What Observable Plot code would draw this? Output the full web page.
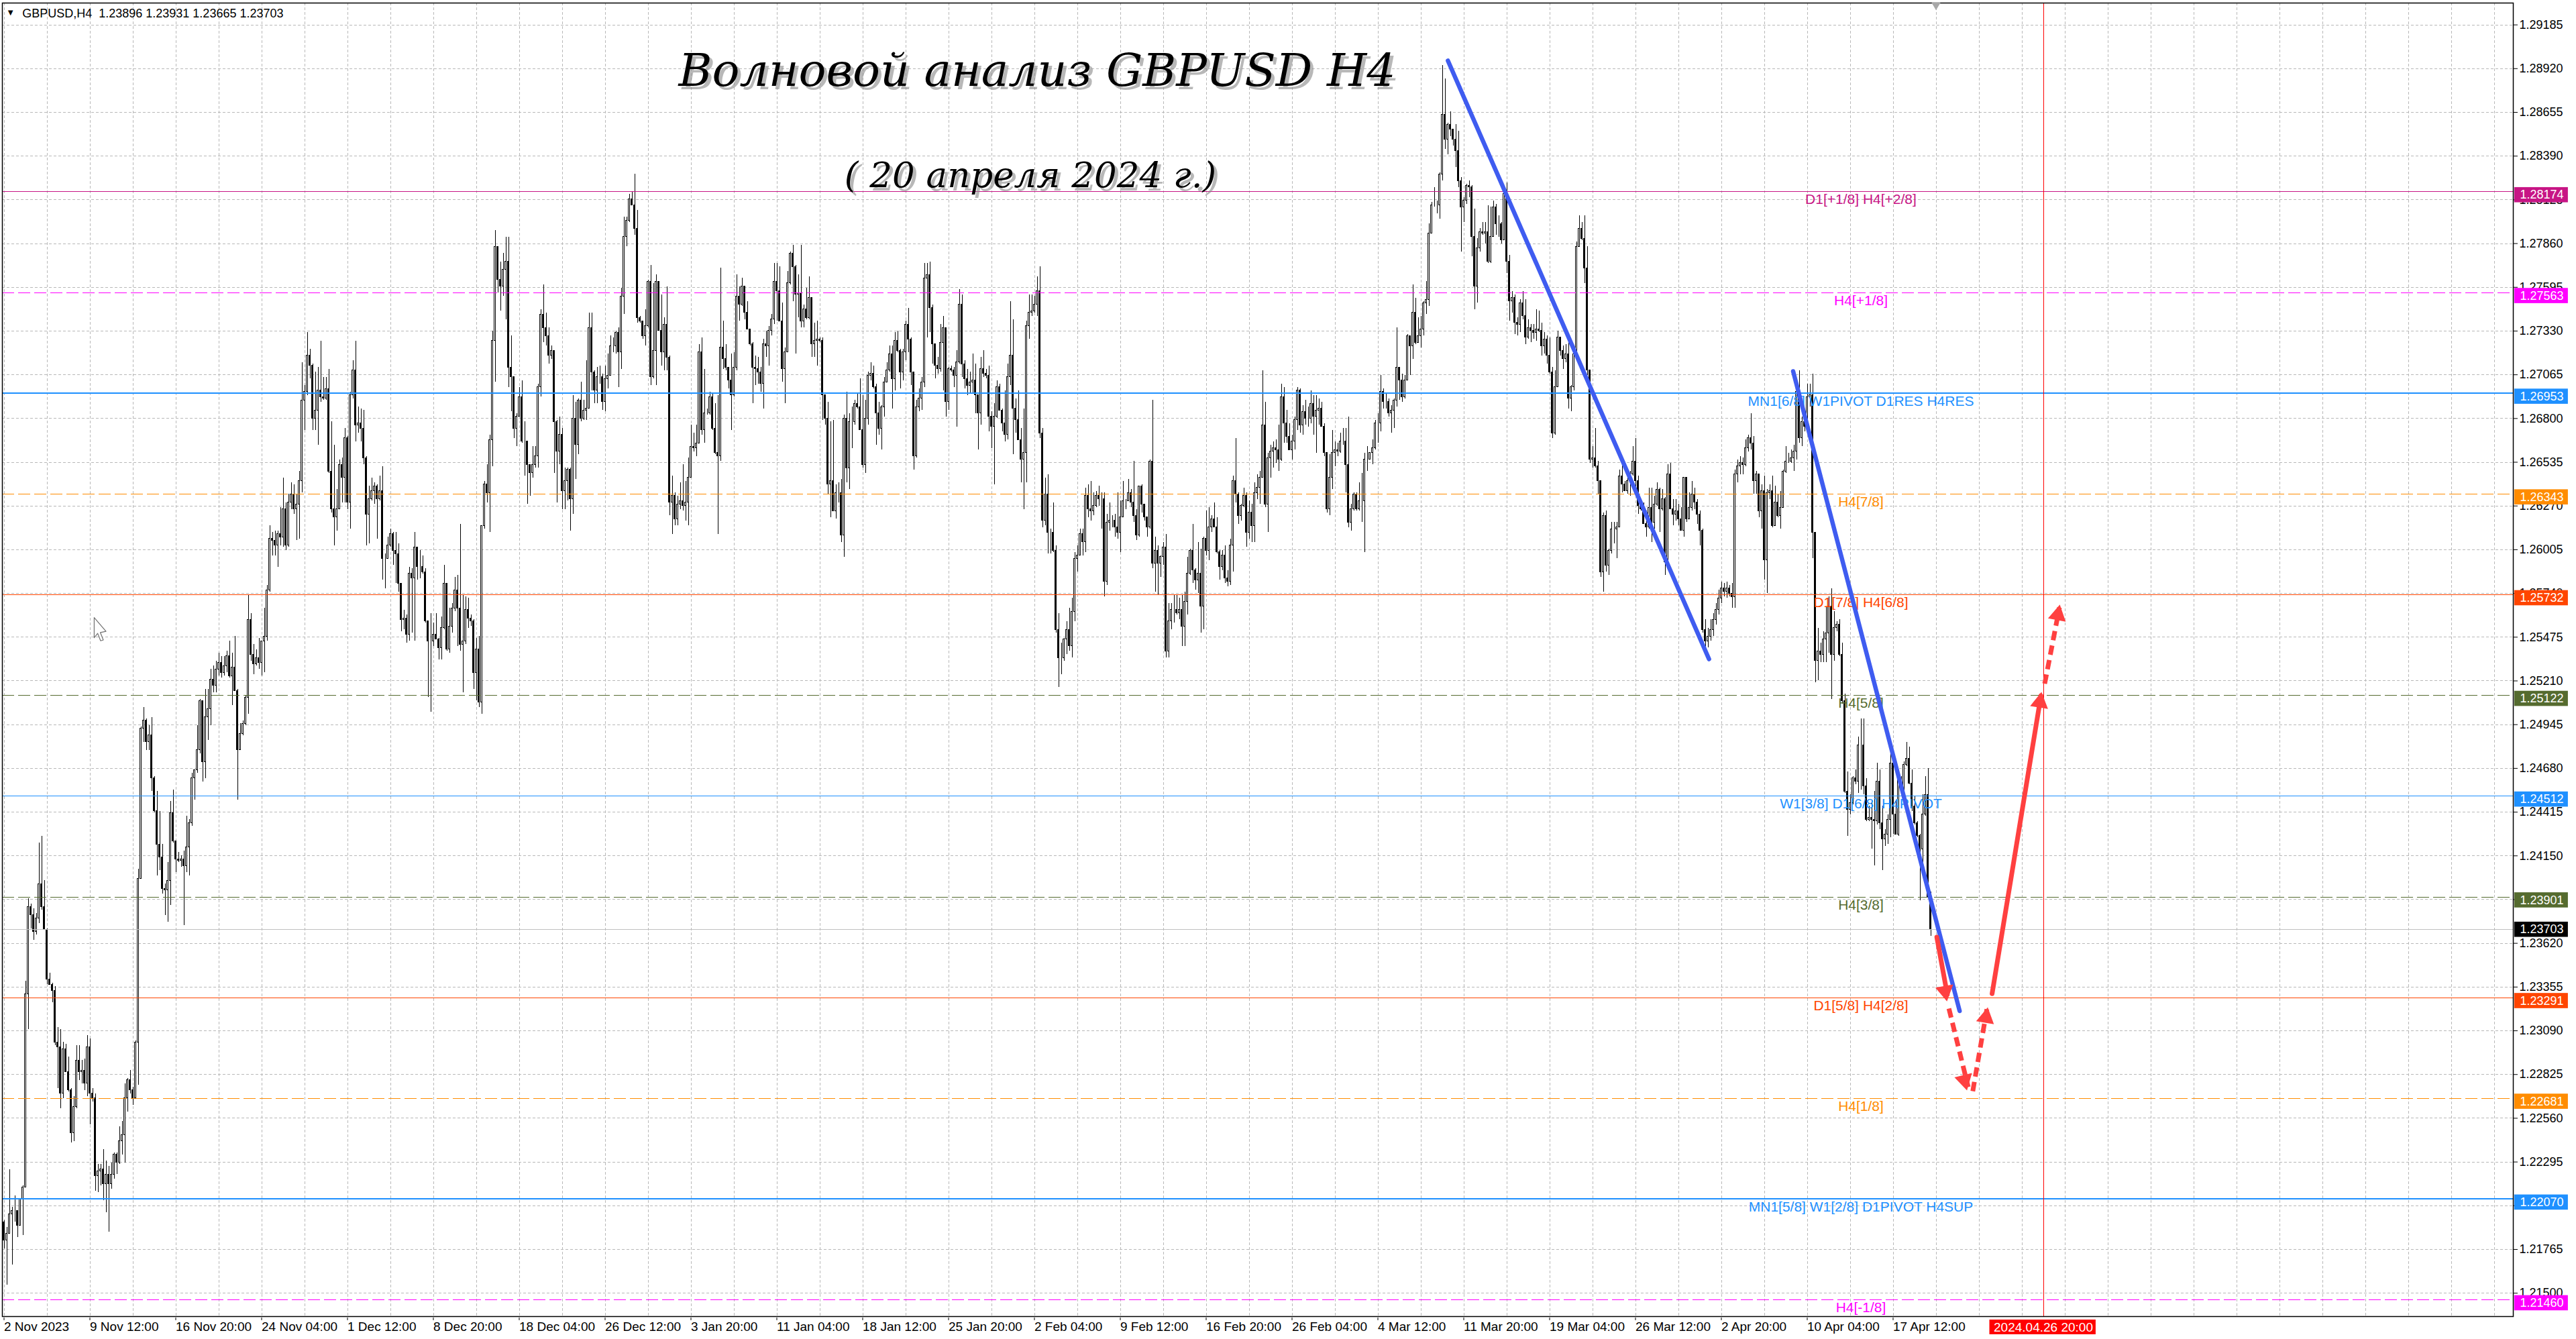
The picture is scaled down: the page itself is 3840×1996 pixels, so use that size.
<!DOCTYPE html>
<html><head><meta charset="utf-8">
<style>html,body{margin:0;padding:0;background:#fff}svg{display:block}</style>
<script src="https://cdn.jsdelivr.net/npm/d3@7"></script>
<script src="https://cdn.jsdelivr.net/npm/@observablehq/plot@0.6"></script>
</head><body>
<script>
// Prices are read as pips above 1.20000; the first open is 193.
const firstOpen = 193;
const closes = [
182,186,198,200,200,191,207,214,331,384,379,369,377,398,384,370,340,337,333,302,
299,271,298,284,273,247,263,291,284,285,277,299,271,268,221,224,225,216,222,216,
222,234,229,242,246,268,279,273,268,302,401,492,497,484,488,462,442,422,414,395,
394,400,441,424,413,412,413,409,420,435,462,467,479,509,472,499,504,522,518,528,
532,526,530,536,524,529,515,479,489,495,511,558,537,531,535,532,545,548,576,607,
606,603,610,608,625,603,629,634,625,628,642,691,696,718,712,680,685,697,693,692,
698,648,625,620,625,652,644,668,629,694,709,676,677,674,656,622,631,636,639,631,
636,595,595,603,610,600,598,580,558,559,549,586,583,602,590,590,587,557,545,545,
549,546,541,553,580,540,554,565,576,565,543,545,564,559,557,526,540,508,615,640,
635,667,727,784,764,760,770,775,711,705,674,681,693,666,666,652,647,652,657,699,
743,735,730,718,721,678,660,670,636,642,649,631,680,664,691,680,685,686,735,708,
697,705,705,690,704,706,724,724,732,720,754,790,800,813,809,795,741,739,730,736,
763,705,721,763,733,720,737,717,629,633,619,628,630,627,629,644,663,662,665,720,
673,683,683,693,674,659,657,723,716,711,703,694,711,754,749,760,744,734,725,711,
710,708,701,725,724,733,740,763,757,739,710,720,762,780,772,755,756,739,746,741,
753,725,727,728,727,694,680,640,642,624,635,635,609,680,650,678,678,689,687,673,
652,680,706,707,699,683,674,687,702,709,719,704,727,721,708,720,737,728,708,657,
687,692,702,765,767,747,725,712,710,726,735,690,710,709,706,714,749,713,704,700,
702,703,694,683,710,707,706,681,675,681,699,685,677,670,705,718,686,679,667,655,
659,736,744,745,749,757,671,618,634,611,611,600,552,535,535,546,552,542,563,595,
597,610,605,633,625,624,627,633,631,631,581,617,618,618,614,611,620,630,630,635,
629,621,609,639,628,620,614,654,592,600,592,596,602,539,557,564,564,562,564,554,
569,586,600,588,582,586,566,607,600,614,619,614,599,590,597,583,581,603,642,634,
621,627,633,611,623,615,635,638,644,676,628,656,660,662,661,655,693,677,669,661,
666,679,697,676,684,680,680,689,681,685,686,675,659,625,644,659,661,660,666,666,
652,617,625,634,625,630,630,655,655,659,662,677,677,696,690,690,683,685,691,711,
703,693,703,730,724,744,726,730,734,750,752,792,809,809,809,828,864,849,858,855,
849,842,824,808,812,821,820,790,760,783,793,792,793,775,790,808,798,798,788,816,
775,751,753,738,737,750,742,729,735,733,732,734,733,724,728,718,708,671,699,729,
721,716,719,692,699,719,784,795,789,771,709,655,656,651,642,587,621,591,600,613,
613,614,645,640,636,642,646,654,642,627,625,616,614,626,617,628,637,625,631,593,
646,625,622,624,619,612,644,619,626,634,629,622,612,552,545,548,552,558,564,571,
577,575,577,574,572,646,651,653,652,662,668,665,642,646,624,636,594,635,636,615,
629,621,626,648,654,654,656,660,696,668,678,675,693,694,611,533,539,537,546,550,
566,537,553,555,537,509,454,443,447,462,460,482,482,457,437,438,437,436,460,435,
425,428,437,471,440,428,461,455,470,474,459,445,435,427,419,440,452,390,370.3];
const upperWicks = [
1,4,27,2,9,0,0,1,8,5,2,4,3,25,29,16,1,4,1,3,
9,11,4,3,9,1,6,9,9,6,7,7,5,3,3,4,3,12,8,5,
7,1,1,9,8,9,1,6,2,1,6,1,8,1,6,11,1,12,20,8,
3,11,7,14,0,4,2,5,19,2,3,0,15,1,0,17,12,6,8,5,
6,4,6,3,9,9,19,1,6,2,1,15,4,6,5,12,0,17,3,8,
4,6,2,16,19,4,5,7,6,6,6,23,4,14,4,1,23,14,30,12,
7,12,30,39,12,3,4,6,1,2,6,18,10,9,11,1,8,8,2,1,
9,15,3,5,3,1,11,6,0,5,2,4,3,9,0,10,7,2,0,17,
7,13,1,7,11,0,11,3,8,9,51,28,8,7,2,1,7,8,0,2,
12,3,6,10,0,11,10,15,15,19,0,2,6,10,12,0,0,11,6,2,
3,18,9,5,3,0,1,11,4,8,1,1,14,10,1,11,6,29,9,9,
1,6,7,2,8,13,6,5,1,3,5,12,2,3,4,19,11,1,0,10,
1,10,41,4,0,22,4,23,1,12,2,5,11,22,13,12,13,8,11,5,
9,27,3,3,2,15,35,48,16,9,0,16,9,13,6,5,0,7,0,1,
7,7,3,3,8,3,3,11,11,15,11,3,7,1,5,1,11,29,3,13,
13,0,11,11,1,2,0,10,36,37,5,6,8,2,16,5,9,2,6,17,
21,11,2,7,5,2,7,1,3,5,5,5,5,6,1,2,2,10,1,0,
4,6,3,9,7,8,2,0,5,11,7,0,1,2,2,7,9,6,2,6,
6,16,10,0,7,11,3,6,3,8,4,2,1,20,8,33,22,6,18,7,
27,3,11,10,5,9,15,3,10,12,2,18,3,10,9,1,5,13,8,4,
6,3,3,5,7,17,8,3,6,4,4,5,11,3,4,21,10,12,1,8,
2,25,4,0,1,0,0,1,37,8,3,1,3,8,11,4,9,9,7,9,
6,10,1,16,1,19,15,1,17,12,2,10,6,1,3,6,5,4,3,26,
1,1,5,2,7,5,6,8,4,33,14,3,4,4,5,15,8,6,8,8,
4,2,2,1,4,7,7,8,5,9,6,4,2,0,14,14,5,4,5,8,
8,29,3,1,1,11,17,4,8,0,5,2,6,10,2,5,2,3,1,24,
0,4,3,1,0,17,9,11,8,1,11,6,2,11,3,1,30,22,1,8,
0,9,12,2,2,1,3,1,17,6,2,6,6,16,18,4,2,5,1,2,
7,4,4,2,3,2,7,10,5,2,4,12,11,5,4,2,11,3,10,4,
0,3,6,8,1,3,3,8,4,14,13,0,7,18,3,0,2,3,1,4,
4,3,4,7,2,2,2,9,14,3,1,4,8,12,12,5,4,1,6,1,
6,7,6,7,4,7,0,0,9,8,4,2,2,1,6,5,6,4,4,5,
4,3,4,2,6,3,4,4,3,5,2,15,4,2,0,4,9,2,4,9,
10,5,10,1,9,5,5,4,1,13,3,5,8,7,13,0,14,5,5,16,
6,11,10,2,3,7,4,12,5,1,5,5,16,16,5,7,10,17,11,7,
10,3,3,7,0,9,6,2,2,10,7,8,6,1,1,12,11,16,3];
const lowerWicks = [
5,27,0,31,7,7,0,22,0,21,8,5,2,3,2,0,3,0,7,2,
25,9,3,0,1,6,5,1,5,7,4,8,19,2,9,10,9,10,17,29,
3,3,7,1,8,17,8,2,4,0,26,0,8,5,5,8,1,19,8,3,
15,19,15,1,8,1,4,36,4,17,2,13,2,2,12,10,14,10,4,4,
4,3,2,4,1,18,0,30,0,1,1,10,4,6,1,4,8,19,3,1,
9,6,13,5,6,3,1,4,3,19,21,7,18,2,8,7,7,21,3,1,
1,1,2,17,8,0,15,15,4,16,2,10,5,8,4,19,18,1,8,24,
1,13,18,0,1,9,18,5,7,6,5,4,33,38,8,7,1,1,34,43,
3,0,7,7,1,1,2,4,2,23,4,29,2,6,3,10,17,3,7,2,
6,24,16,25,8,15,6,30,12,21,6,11,0,1,21,24,14,3,2,7,
6,9,6,5,2,31,31,8,11,11,12,19,9,21,6,2,1,6,0,11,
8,8,4,5,6,6,0,4,5,21,10,11,6,1,0,4,3,1,2,6,
1,5,1,21,0,8,11,8,8,19,4,4,3,3,9,14,0,2,5,0,
3,8,1,1,1,1,47,3,6,2,5,21,1,2,10,1,4,0,1,22,
10,7,5,15,7,12,3,3,18,0,8,21,0,1,21,36,14,4,4,1,
1,8,8,15,1,15,4,6,20,0,5,6,4,13,9,13,16,2,1,0,
2,5,4,3,1,19,4,13,6,0,1,18,7,1,10,5,5,8,8,8,
1,3,7,3,36,15,12,8,3,2,29,9,5,1,7,31,1,8,6,6,
5,7,11,22,7,2,2,9,13,35,1,0,5,4,3,5,28,8,0,14,
30,18,8,2,1,7,3,4,3,13,13,1,2,18,10,2,9,3,7,6,
8,0,8,6,5,6,3,1,4,18,9,2,5,4,6,4,12,0,5,0,
3,4,3,1,5,2,6,1,3,17,19,8,5,4,4,5,8,1,4,12,
12,8,1,8,6,8,16,14,3,6,3,0,1,8,2,3,3,2,16,5,
5,3,1,9,4,10,10,4,10,0,2,17,12,10,8,7,1,12,4,0,
6,5,6,5,6,4,5,3,11,22,9,0,2,2,4,7,8,3,1,2,
17,3,5,1,1,1,13,31,7,0,7,1,12,5,4,4,2,12,11,4,
12,3,1,0,18,8,1,0,7,4,7,4,0,1,5,8,4,6,9,4,
4,10,4,27,9,2,6,12,14,10,2,1,6,1,1,0,7,8,2,0,
7,12,7,7,7,5,2,4,1,7,4,5,1,6,5,5,1,3,1,0,
3,6,2,6,8,2,1,0,1,9,3,2,5,1,8,3,12,4,6,2,
9,18,0,5,0,2,9,1,8,5,1,0,6,1,12,4,1,14,1,8,
1,0,7,4,4,0,4,2,0,2,4,6,9,2,4,4,3,4,3,3,
3,3,4,2,7,7,5,5,6,1,2,4,8,8,4,11,12,20,4,1,
0,1,8,0,1,1,1,8,5,3,5,3,1,6,16,13,12,5,5,14,
12,27,4,2,1,2,1,16,3,1,2,7,27,5,1,1,18,27,2,4,
19,4,6,11,12,0,1,2,9,1,1,3,1,1,31,10,1,1,4];

const priceTicks = [1.29185,1.2892,1.28655,1.2839,1.28125,1.2786,1.27595,1.2733,1.27065,1.268,1.26535,1.2627,1.26005,1.2574,1.25475,1.2521,1.24945,1.2468,1.24415,1.2415,1.23885,1.2362,1.23355,1.2309,1.22825,1.2256,1.22295,1.2203,1.21765,1.215];
const dateLabels = ["2 Nov 2023","9 Nov 12:00","16 Nov 20:00","24 Nov 04:00","1 Dec 12:00","8 Dec 20:00","18 Dec 04:00","26 Dec 12:00","3 Jan 20:00","11 Jan 04:00","18 Jan 12:00","25 Jan 20:00","2 Feb 04:00","9 Feb 12:00","16 Feb 20:00","26 Feb 04:00","4 Mar 12:00","11 Mar 20:00","19 Mar 04:00","26 Mar 12:00","2 Apr 20:00","10 Apr 04:00","17 Apr 12:00"];

const levelPrices = [1.28174,1.27563,1.26953,1.26343,1.25732,1.25122,1.24512,1.23901,1.23291,1.22681,1.2207,1.2146];
const levelColors = ["#c71585","#ff00ff","#1e90ff","#ff8c00","#ff4500","#556b2f","#1e90ff","#556b2f","#ff4500","#ff8c00","#1e90ff","#ff00ff"];
const levelDashed = [false,true,false,true,false,true,false,true,false,true,false,true];
const levelWidths = [1,1,2,1,1,1,1,1,1,1,2,1];
const levelNames = ["D1[+1/8] H4[+2/8]","H4[+1/8]","MN1[6/8] W1PIVOT D1RES H4RES","H4[7/8]","D1[7/8] H4[6/8]","H4[5/8]","W1[3/8] D1[6/8] H4PIVOT","H4[3/8]","D1[5/8] H4[2/8]","H4[1/8]","MN1[5/8] W1[2/8] D1PIVOT H4SUP","H4[-1/8]"];
const lastPrice = 1.23703;

// Drawn waves, as [bar, pips above 1.20000]
const blueWaveA = [[538.1,896.8],[635.4,534.2]];
const blueWaveB = [[666.75,708.6],[728.8,321]];
const redSolidA = [[720.3,365.7],[724.2,331]];
const redDashA  = [[724.8,322.5],[732,274.9]];
const redDashB  = [[733.7,272.4],[739,322.5]];
const redSolidB = [[740.9,331.5],[759.1,512]];
const redDashC  = [[760.5,519.3],[766,565.5]];
const redHeads = [[723.4,333,170],[730.6,279,166],[738.6,317,10],[758.7,508,9],[765.4,561,11]];
const mouseCursor = [[33.6,559.4],[33.6,547.2],[34.9,549.8],[36,545.3],[37,545.8],[35.9,550.3],[38,551],[33.6,559.4]];

const price = p => 1.2 + p / 10000;
const pt = ([b,p]) => ({b, y: price(p)});
const opens = closes.map((c,i) => i ? closes[i-1] : firstOpen);
const bars = closes.map((c,i) => {
  const o = opens[i], top = Math.max(o,c), bot = Math.min(o,c);
  return {i, o: price(o), c: price(c), h: price(top + (upperWicks[i]||0)), l: price(bot - (lowerWicks[i]||0)), up: c >= o};
});
const levels = levelPrices.map((y,k) => ({y, color: levelColors[k], dashed: levelDashed[k], w: levelWidths[k], name: levelNames[k]}));
const dash = "18,6";
const bodyHalf = 0.25, labelBar = 692, tagL = 935.6, tagR = 955.6, tagTextBar = 937.6;
const gridBars = d3.range(0, 929, 16);
const labelBars = dateLabels.map((d,k) => k * 32);
const wave = (pts, opts) => Plot.line(pts.map(pt), {x:"b", y:"y", strokeLinecap:"round", ...opts});
const red = "#ff4040";
const tagFont = {fontSize:18, fontFamily:"Liberation Sans"};

const chart = Plot.plot({
  width: 3840, height: 1996,
  marginLeft: 3, marginRight: 94, marginTop: 4, marginBottom: 34,
  x: {type:"linear", domain:[-0.625, 935.125], label:null},
  y: {type:"linear", domain:[1.213585, 1.293175], label:null},
  color: {type:"identity"},
  style: {background:"#fff", fontFamily:"Liberation Sans", fontSize:"18px", color:"#000"},
  marks: [
    Plot.ruleY(priceTicks, {stroke:"#b8b8b8", strokeDasharray:"4,3", shapeRendering:"crispEdges"}),
    Plot.ruleX(gridBars, {stroke:"#b8b8b8", strokeDasharray:"4,3", shapeRendering:"crispEdges"}),
    Plot.axisY(priceTicks, {anchor:"right", tickSize:6, tickPadding:3, tickFormat:d3.format(".5f"), label:null, fontSize:18}),
    Plot.axisX(labelBars, {anchor:"bottom", tickSize:4, tickPadding:2, textAnchor:"start", tickFormat:(d,k)=>dateLabels[k], label:null, fontSize:19, dy:2}),
    Plot.ruleX(bars, {x:"i", y1:"l", y2:"h", stroke:"#000", strokeWidth:1, shapeRendering:"crispEdges"}),
    Plot.rect(bars, {x1:d=>d.i-bodyHalf, x2:d=>d.i+bodyHalf, y1:"o", y2:"c", fill:d=>d.up?"#fff":"#000", stroke:"#000", strokeWidth:1, shapeRendering:"crispEdges"}),
    Plot.ruleY(levels.filter(d=>!d.dashed), {y:"y", stroke:"color", strokeWidth:"w", shapeRendering:"crispEdges"}),
    Plot.ruleY(levels.filter(d=>d.dashed), {y:"y", stroke:"color", strokeWidth:"w", strokeDasharray:dash, shapeRendering:"crispEdges"}),
    Plot.ruleY([lastPrice], {stroke:"#c0c0c0", shapeRendering:"crispEdges"}),
    Plot.ruleX([760], {stroke:"#ff0000", shapeRendering:"crispEdges"}),
    Plot.text(levels, {x:()=>labelBar, y:d=>d.y-0.00048, text:"name", fill:"color", fontSize:21, textAnchor:"middle", lineAnchor:"middle"}),
    wave(blueWaveA, {stroke:"#3f5cf0", strokeWidth:6.5}),
    wave(blueWaveB, {stroke:"#3f5cf0", strokeWidth:6.5}),
    wave(redSolidA, {stroke:red, strokeWidth:7}),
    wave(redSolidB, {stroke:red, strokeWidth:7}),
    wave(redDashA, {stroke:red, strokeWidth:7, strokeDasharray:"14,8", strokeLinecap:"butt"}),
    wave(redDashB, {stroke:red, strokeWidth:7, strokeDasharray:"14,8", strokeLinecap:"butt"}),
    wave(redDashC, {stroke:red, strokeWidth:7, strokeDasharray:"14,8", strokeLinecap:"butt"}),
    Plot.dot(redHeads, {x:d=>d[0], y:d=>price(d[1]), rotate:d=>d[2], symbol:"triangle", r:10, fill:red, stroke:"none"}),
    Plot.line(mouseCursor.map(pt), {x:"b", y:"y", stroke:"#707070", strokeWidth:1.2, fill:"#fff"}),
    // price tags
    Plot.rect(levels, {x1:()=>tagL, x2:()=>tagR, y1:d=>d.y-0.00066, y2:d=>d.y+0.00026, fill:"color"}),
    Plot.text(levels, {x:()=>tagTextBar, y:d=>d.y-0.0002, text:d=>d.y.toFixed(5), fill:"#fff", textAnchor:"start", lineAnchor:"middle", ...tagFont}),
    Plot.rect([lastPrice], {x1:()=>tagL, x2:()=>tagR, y1:d=>d-0.00046, y2:d=>d+0.00046, fill:"#000"}),
    Plot.text([lastPrice], {x:()=>tagTextBar, y:d=>d, text:d=>d.toFixed(5), fill:"#fff", textAnchor:"start", lineAnchor:"middle", ...tagFont}),
    // current-time tag
    Plot.rect([760], {x1:()=>740, x2:()=>779.6, y1:()=>price(124.9), y2:()=>price(133.8), fill:"#ff0000"}),
    Plot.text(["2024.04.26 20:00"], {x:()=>760, y:()=>price(129.3), text:d=>d, fill:"#fff", fontSize:19, textAnchor:"middle", lineAnchor:"middle"}),
    Plot.frame({stroke:"#000", strokeWidth:1.5}),
    // heading text
    Plot.text(["▼"], {x:()=>2.4, y:()=>price(926), text:d=>d, fontSize:13, fill:"#000", textAnchor:"middle", lineAnchor:"middle"}),
    Plot.text(["GBPUSD,H4  1.23896 1.23931 1.23665 1.23703"], {x:()=>6.8, y:()=>price(925.5), text:d=>d, fontSize:18, fill:"#000", textAnchor:"start", lineAnchor:"middle"}),
    Plot.dot([720], {x:d=>d, y:()=>price(930.5), symbol:"triangle", r:5, rotate:180, fill:"#a8a8a8", stroke:"none"}),
    ...[["#888",5,5,0.6],["#000",0,0,1]].flatMap(([fill,dx,dy,o]) => [
      Plot.text(["Волновой анализ GBPUSD H4"], {x:()=>385, y:()=>price(890.5), text:d=>d, fill, fillOpacity:o, dx, dy, fontFamily:"DejaVu Serif", fontStyle:"italic", fontSize:68, textAnchor:"middle", lineAnchor:"middle"}),
      Plot.text(["( 20 апреля 2024 г.)"], {x:()=>382.5, y:()=>price(827), text:d=>d, fill, fillOpacity:o, dx, dy, fontFamily:"DejaVu Serif", fontStyle:"italic", fontSize:53, textAnchor:"middle", lineAnchor:"middle"})
    ])
  ]
});
document.body.appendChild(chart);
</script>
</body></html>
